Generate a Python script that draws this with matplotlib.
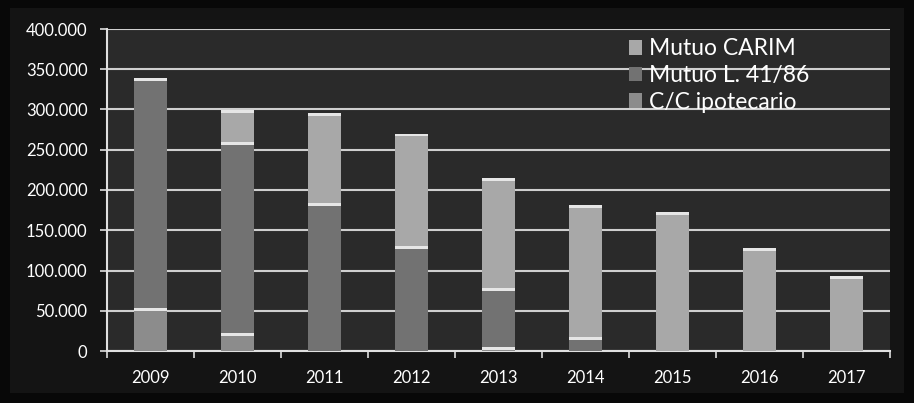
import matplotlib
matplotlib.use("Agg")
import matplotlib.pyplot as plt
import numpy as np
from matplotlib.patches import Patch

years = ["2009", "2010", "2011", "2012", "2013", "2014", "2015", "2016", "2017"]
cc_ipotecario = [53, 22, 0, 0, 5, 0, 0, 0, 0]          # thousands
mutuo_l4186 = [286, 238, 184, 130, 73, 17, 0, 0, 0]
mutuo_carim = [0, 39, 112, 140, 137, 164, 173, 128, 93]
y_ticks = [0, 50, 100, 150, 200, 250, 300, 350, 400]
y_tick_labels = ["0", "50.000", "100.000", "150.000", "200.000", "250.000",
                 "300.000", "350.000", "400.000"]

series = [("C/C ipotecario", cc_ipotecario, "#8c8c8c"),
          ("Mutuo L. 41/86", mutuo_l4186, "#727272"),
          ("Mutuo CARIM", mutuo_carim, "#a8a8a8")]

plt.rcParams['font.family'] = ['Lato', 'DejaVu Sans']
fig = plt.figure(figsize=(9.14, 4.03), dpi=100, facecolor="#080808")
# chart-area frame
bg = fig.add_axes([10/914, 10/403, 894/914, 385/403], zorder=0)
bg.set_facecolor("#141414")
bg.set_xticks([]); bg.set_yticks([])
for s in bg.spines.values():
    s.set_visible(False)

ax = fig.add_axes([107/914, 1-351/403, 783/914, 322/403], zorder=1)
ax.set_facecolor("#2a2a2a")

x = np.arange(len(years))
w = 0.38
bottom = np.zeros(len(years))
for name, vals, col in series:
    v = np.array(vals, dtype=float)
    ax.bar(x, v, w, bottom=bottom, color=col, edgecolor="none", zorder=3)
    cap = np.where(v > 0, np.minimum(3.5, v), 0)
    ax.bar(x, cap, w, bottom=bottom + v - cap, color="#e6e6e6",
           edgecolor="none", zorder=4)
    bottom = bottom + v

ax.set_xlim(-0.5, len(years) - 0.5)
ax.set_ylim(0, 400)
ax.set_yticks(y_ticks)
ax.set_yticklabels(y_tick_labels)
ax.set_xticks(x)
ax.set_xticklabels(years)
ax.set_xticks(np.arange(len(years) + 1) - 0.5, minor=True)
ax.tick_params(axis="x", which="major", length=0, pad=14, labelsize=12,
               colors="white")
ax.tick_params(axis="x", which="minor", length=5, width=1.2, color="#dddddd",
               direction="out")
ax.tick_params(axis="y", length=5, width=1.2, color="#dddddd", labelsize=12,
               labelcolor="white", pad=9)
ax.yaxis.grid(True, color="#cfcfcf", linewidth=1.5, zorder=1)
ax.set_axisbelow(True)
for s in ["top", "right"]:
    ax.spines[s].set_visible(False)
for s in ["left", "bottom"]:
    ax.spines[s].set_color("#e0e0e0")
    ax.spines[s].set_linewidth(1.5)

handles = [Patch(facecolor=c, label=n) for n, _, c in reversed(series)]
leg = ax.legend(handles=handles, loc="upper left",
                bbox_to_anchor=(0.64, 1.035), frameon=False, fontsize=16.5,
                handlelength=0.6, handleheight=0.6, handletextpad=0.3,
                labelspacing=0.25, labelcolor="white")

fig.savefig("out.png", dpi=100, facecolor=fig.get_facecolor())
